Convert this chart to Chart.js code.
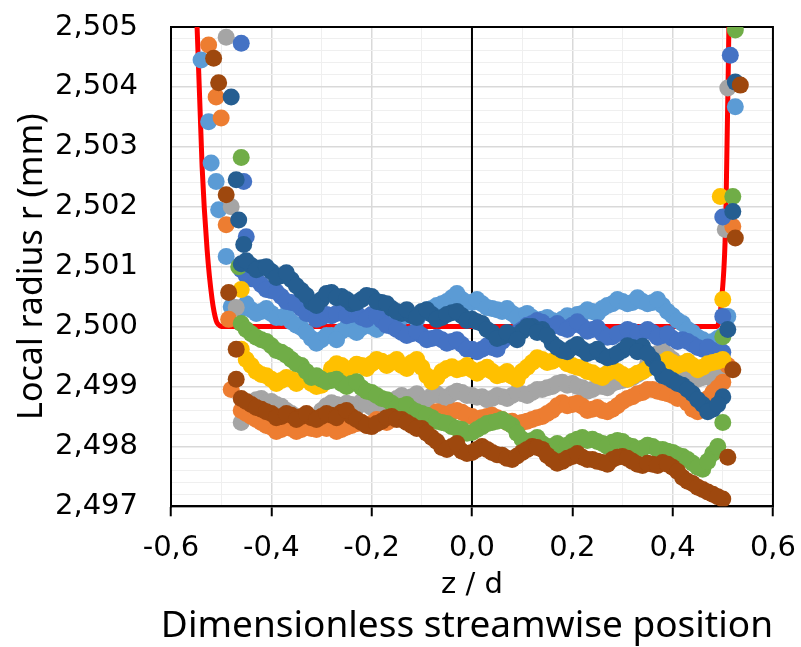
<!DOCTYPE html>
<html>
<head>
<meta charset="utf-8">
<script src="https://cdn.jsdelivr.net/npm/chart.js@4.4.0/dist/chart.umd.min.js"></script>
<style>
  html, body { margin: 0; padding: 0; background: #fff; }
  #wrap { width: 801px; height: 647px; }
</style>
</head>
<body>
<div id="wrap"><canvas id="myChart"></canvas></div>
<script>
// z/d positions of the measured band (shared by all runs)
const zEven = [-0.46, -0.44, -0.42, -0.40, -0.38, -0.36, -0.34, -0.32, -0.30, -0.28,
  -0.26, -0.24, -0.22, -0.20, -0.18, -0.16, -0.14, -0.12, -0.10, -0.08,
  -0.06, -0.04, -0.02, 0.00, 0.02, 0.04, 0.06, 0.08, 0.10, 0.12,
  0.14, 0.16, 0.18, 0.20, 0.22, 0.24, 0.26, 0.28, 0.30, 0.32,
  0.34, 0.36, 0.38, 0.40, 0.42, 0.44, 0.46, 0.48, 0.50];
const zOdd = [-0.45, -0.43, -0.41, -0.39, -0.37, -0.35, -0.33, -0.31, -0.29, -0.27,
  -0.25, -0.23, -0.21, -0.19, -0.17, -0.15, -0.13, -0.11, -0.09, -0.07,
  -0.05, -0.03, -0.01, 0.01, 0.03, 0.05, 0.07, 0.09, 0.11, 0.13,
  0.15, 0.17, 0.19, 0.21, 0.23, 0.25, 0.27, 0.29, 0.31, 0.33,
  0.35, 0.37, 0.39, 0.41, 0.43, 0.45, 0.47, 0.49];

// local radius r (mm) for each run
const rDarkBlue = [2.50105, 2.50102, 2.50098, 2.50092, 2.50085, 2.50078, 2.50060, 2.50040, 2.50045, 2.50057,
  2.50050, 2.50038, 2.50045, 2.50050, 2.50040, 2.50030, 2.50022, 2.50018, 2.50025, 2.50020,
  2.50015, 2.50023, 2.50018, 2.50012, 2.50005, 2.49990, 2.49983, 2.49985, 2.49992, 2.50000,
  2.49995, 2.49972, 2.49960, 2.49965, 2.49962, 2.49958, 2.49952, 2.49950, 2.49960, 2.49965,
  2.49967, 2.49945, 2.49918, 2.49910, 2.49902, 2.49888, 2.49870, 2.49862, 2.49883];
const rDarkBlueOdd = [2.50110, 2.50095, 2.50100, 2.50082, 2.50090, 2.50068, 2.50052, 2.50035, 2.50055, 2.50048,
  2.50045, 2.50040, 2.50052, 2.50042, 2.50038, 2.50025, 2.50028, 2.50015, 2.50028, 2.50012,
  2.50020, 2.50025, 2.50010, 2.50008, 2.49995, 2.49980, 2.49990, 2.49978, 2.50000, 2.49990,
  2.49985, 2.49965, 2.49958, 2.49970, 2.49955, 2.49962, 2.49948, 2.49955, 2.49968, 2.49958,
  2.49955, 2.49930, 2.49915, 2.49905, 2.49895, 2.49878, 2.49858, 2.49870];
const rBlue = [2.50095, 2.50080, 2.50070, 2.50060, 2.50050, 2.50040, 2.50030, 2.50020, 2.50015, 2.50018,
  2.50025, 2.50020, 2.50015, 2.50020, 2.50010, 2.50000, 2.49990, 2.49988, 2.49985, 2.49980,
  2.49978, 2.49975, 2.49970, 2.49962, 2.49962, 2.49965, 2.49975, 2.49985, 2.49995, 2.50005,
  2.50007, 2.50000, 2.49998, 2.50002, 2.50000, 2.49995, 2.49988, 2.49983, 2.49990, 2.49992,
  2.49990, 2.49990, 2.49985, 2.49980, 2.49978, 2.49970, 2.49962, 2.49960, 2.49957];
const rBlueOdd = [2.50085, 2.50078, 2.50062, 2.50058, 2.50042, 2.50038, 2.50022, 2.50012, 2.50020, 2.50022,
  2.50018, 2.50022, 2.50012, 2.50018, 2.50002, 2.49995, 2.49985, 2.49992, 2.49978, 2.49982,
  2.49972, 2.49978, 2.49962, 2.49958, 2.49968, 2.49962, 2.49982, 2.49990, 2.50002, 2.50010,
  2.50000, 2.50005, 2.49995, 2.50008, 2.49992, 2.49998, 2.49982, 2.49988, 2.49995, 2.49985,
  2.49995, 2.49982, 2.49988, 2.49975, 2.49975, 2.49965, 2.49966, 2.49955];
const rLightBlue = [2.50030, 2.50028, 2.50025, 2.50022, 2.50015, 2.50008, 2.49998, 2.49980, 2.49978, 2.49985,
  2.49992, 2.49995, 2.49998, 2.50000, 2.50005, 2.50010, 2.50015, 2.50018, 2.50022, 2.50030,
  2.50038, 2.50048, 2.50045, 2.50040, 2.50038, 2.50030, 2.50025, 2.50022, 2.50018, 2.50015,
  2.50012, 2.50010, 2.50012, 2.50015, 2.50022, 2.50025, 2.50030, 2.50038, 2.50042, 2.50040,
  2.50042, 2.50040, 2.50035, 2.50018, 2.50005, 2.49990, 2.49978, 2.49975, 2.49985];
const rLightBlueOdd = [2.50038, 2.50022, 2.50030, 2.50015, 2.50020, 2.50002, 2.49990, 2.49972, 2.49985, 2.49978,
  2.49998, 2.49990, 2.50005, 2.49995, 2.50010, 2.50005, 2.50020, 2.50012, 2.50028, 2.50035,
  2.50042, 2.50055, 2.50040, 2.50045, 2.50032, 2.50028, 2.50030, 2.50015, 2.50022, 2.50010,
  2.50015, 2.50005, 2.50018, 2.50020, 2.50028, 2.50022, 2.50035, 2.50045, 2.50038, 2.50048,
  2.50038, 2.50045, 2.50025, 2.50010, 2.49995, 2.49982, 2.49970, 2.49980];
const rYellow = [2.49962, 2.49935, 2.49920, 2.49912, 2.49910, 2.49912, 2.49912, 2.49905, 2.49902, 2.49930,
  2.49935, 2.49930, 2.49935, 2.49938, 2.49942, 2.49940, 2.49935, 2.49940, 2.49932, 2.49908,
  2.49925, 2.49933, 2.49930, 2.49928, 2.49928, 2.49925, 2.49920, 2.49917, 2.49925, 2.49940,
  2.49945, 2.49942, 2.49945, 2.49935, 2.49930, 2.49923, 2.49915, 2.49928, 2.49920, 2.49917,
  2.49925, 2.49935, 2.49940, 2.49940, 2.49938, 2.49935, 2.49932, 2.49940, 2.49945];
const rYellowOdd = [2.49945, 2.49925, 2.49918, 2.49905, 2.49915, 2.49905, 2.49918, 2.49900, 2.49915, 2.49938,
  2.49928, 2.49937, 2.49930, 2.49945, 2.49935, 2.49945, 2.49930, 2.49945, 2.49918, 2.49915,
  2.49930, 2.49928, 2.49935, 2.49922, 2.49932, 2.49918, 2.49925, 2.49912, 2.49932, 2.49948,
  2.49940, 2.49948, 2.49938, 2.49932, 2.49925, 2.49918, 2.49922, 2.49925, 2.49912, 2.49922,
  2.49930, 2.49938, 2.49945, 2.49935, 2.49942, 2.49928, 2.49938, 2.49942];
const rGreen = [2.50005, 2.49988, 2.49978, 2.49968, 2.49957, 2.49945, 2.49935, 2.49915, 2.49912, 2.49910,
  2.49905, 2.49905, 2.49898, 2.49890, 2.49880, 2.49872, 2.49867, 2.49862, 2.49855, 2.49848,
  2.49840, 2.49833, 2.49828, 2.49823, 2.49833, 2.49840, 2.49845, 2.49835, 2.49812, 2.49810,
  2.49805, 2.49800, 2.49798, 2.49808, 2.49815, 2.49812, 2.49805, 2.49807, 2.49808, 2.49800,
  2.49797, 2.49800, 2.49795, 2.49790, 2.49783, 2.49772, 2.49762, 2.49788, 2.49840];
const rGreenOdd = [2.49995, 2.49982, 2.49975, 2.49960, 2.49952, 2.49938, 2.49925, 2.49918, 2.49908, 2.49912,
  2.49900, 2.49908, 2.49892, 2.49885, 2.49878, 2.49865, 2.49870, 2.49858, 2.49852, 2.49842,
  2.49838, 2.49830, 2.49822, 2.49828, 2.49838, 2.49842, 2.49840, 2.49822, 2.49808, 2.49815,
  2.49800, 2.49805, 2.49802, 2.49812, 2.49810, 2.49808, 2.49800, 2.49810, 2.49802, 2.49795,
  2.49802, 2.49795, 2.49792, 2.49785, 2.49778, 2.49765, 2.49775, 2.49800];
const rGray = [2.49840, 2.49870, 2.49880, 2.49875, 2.49867, 2.49855, 2.49840, 2.49835, 2.49860, 2.49873,
  2.49868, 2.49870, 2.49875, 2.49865, 2.49862, 2.49875, 2.49885, 2.49883, 2.49880, 2.49885,
  2.49883, 2.49888, 2.49890, 2.49885, 2.49883, 2.49880, 2.49883, 2.49885, 2.49888, 2.49890,
  2.49895, 2.49900, 2.49907, 2.49905, 2.49898, 2.49895, 2.49900, 2.49905, 2.49910, 2.49915,
  2.49925, 2.49950, 2.49960, 2.49945, 2.49930, 2.49918, 2.49915, 2.49912, 2.49920];
const rGrayOdd = [2.49858, 2.49878, 2.49872, 2.49870, 2.49860, 2.49848, 2.49838, 2.49848, 2.49868, 2.49870,
  2.49872, 2.49865, 2.49870, 2.49860, 2.49870, 2.49880, 2.49880, 2.49888, 2.49878, 2.49888,
  2.49880, 2.49892, 2.49885, 2.49882, 2.49878, 2.49885, 2.49880, 2.49890, 2.49885, 2.49895,
  2.49898, 2.49905, 2.49902, 2.49900, 2.49892, 2.49900, 2.49898, 2.49908, 2.49912, 2.49920,
  2.49938, 2.49955, 2.49952, 2.49938, 2.49922, 2.49912, 2.49918, 2.49915];
const rOrange = [2.49860, 2.49850, 2.49840, 2.49832, 2.49828, 2.49830, 2.49828, 2.49830, 2.49835, 2.49832,
  2.49828, 2.49835, 2.49840, 2.49838, 2.49842, 2.49845, 2.49848, 2.49850, 2.49848, 2.49852,
  2.49855, 2.49857, 2.49857, 2.49850, 2.49848, 2.49852, 2.49845, 2.49842, 2.49840, 2.49845,
  2.49850, 2.49860, 2.49873, 2.49870, 2.49867, 2.49862, 2.49860, 2.49862, 2.49875, 2.49883,
  2.49890, 2.49895, 2.49890, 2.49885, 2.49883, 2.49862, 2.49870, 2.49890, 2.49907];
const rOrangeOdd = [2.49855, 2.49845, 2.49835, 2.49825, 2.49832, 2.49825, 2.49832, 2.49828, 2.49830, 2.49825,
  2.49832, 2.49838, 2.49835, 2.49845, 2.49840, 2.49850, 2.49845, 2.49852, 2.49850, 2.49858,
  2.49852, 2.49860, 2.49852, 2.49845, 2.49850, 2.49848, 2.49840, 2.49838, 2.49842, 2.49848,
  2.49855, 2.49868, 2.49868, 2.49872, 2.49860, 2.49865, 2.49858, 2.49868, 2.49880, 2.49888,
  2.49895, 2.49892, 2.49888, 2.49880, 2.49872, 2.49858, 2.49880, 2.49898];
const rBrown = [2.49880, 2.49870, 2.49862, 2.49855, 2.49850, 2.49852, 2.49850, 2.49848, 2.49850, 2.49852,
  2.49857, 2.49850, 2.49840, 2.49833, 2.49842, 2.49850, 2.49845, 2.49835, 2.49830, 2.49815,
  2.49798, 2.49800, 2.49792, 2.49790, 2.49800, 2.49790, 2.49785, 2.49778, 2.49790, 2.49800,
  2.49795, 2.49778, 2.49775, 2.49783, 2.49782, 2.49778, 2.49773, 2.49778, 2.49783, 2.49775,
  2.49768, 2.49770, 2.49773, 2.49765, 2.49748, 2.49738, 2.49728, 2.49720, 2.49712];
const rBrownOdd = [2.49875, 2.49865, 2.49858, 2.49848, 2.49855, 2.49845, 2.49855, 2.49845, 2.49855, 2.49848,
  2.49860, 2.49845, 2.49835, 2.49838, 2.49848, 2.49845, 2.49840, 2.49830, 2.49822, 2.49808,
  2.49795, 2.49805, 2.49788, 2.49795, 2.49795, 2.49786, 2.49780, 2.49784, 2.49795, 2.49798,
  2.49785, 2.49772, 2.49780, 2.49788, 2.49778, 2.49775, 2.49770, 2.49782, 2.49780, 2.49770,
  2.49772, 2.49768, 2.49770, 2.49758, 2.49742, 2.49732, 2.49724, 2.49716];

// points near the two ends of the sample, [z/d, r]
const edgeDarkBlue = [[-0.48, 2.50383], [-0.47, 2.50245], [-0.465, 2.50178], [-0.455, 2.50137],
  [0.51, 2.49995], [0.52, 2.50192], [0.525, 2.50408]];
const edgeBlue = [[-0.46, 2.50473], [-0.455, 2.50242], [-0.45, 2.50150], [0.50, 2.50017],
  [0.50, 2.50183], [0.515, 2.50453]];
const edgeLightBlue = [[-0.54, 2.50445], [-0.525, 2.50342], [-0.52, 2.50273], [-0.51, 2.50242],
  [-0.505, 2.50195], [-0.49, 2.50117], [-0.48, 2.50033], [0.51, 2.50017], [0.525, 2.50367]];
const edgeYellow = [[-0.46, 2.50062], [0.50, 2.50045], [0.495, 2.50217]];
const edgeGreen = [[-0.46, 2.50282], [-0.465, 2.50100], [0.50, 2.49983], [0.52, 2.50217], [0.525, 2.50495]];
const edgeGray = [[-0.49, 2.50483], [-0.48, 2.50200], [-0.47, 2.50032], [0.51, 2.50398], [0.505, 2.50162]];
const edgeOrange = [[-0.525, 2.50470], [-0.51, 2.50383], [-0.50, 2.50348], [-0.49, 2.50170],
  [-0.485, 2.50012], [-0.48, 2.49895], [0.52, 2.50167], [0.51, 2.49935]];
const edgeBrown = [[-0.515, 2.50448], [-0.505, 2.50407], [-0.49, 2.50220], [-0.485, 2.50057],
  [-0.47, 2.49962], [-0.47, 2.49912], [0.51, 2.49782], [0.52, 2.49928], [0.535, 2.50403], [0.525, 2.50148]];

// nominal contour (red line)
const nominalZ = [-0.552, -0.548, -0.538, -0.528, -0.518, -0.510, -0.505, -0.500, 0.488, 0.497, 0.506, 0.512, 0.513];
const nominalR = [2.5055, 2.5050, 2.50267, 2.50128, 2.50045, 2.50010, 2.50003, 2.50000, 2.50000, 2.50040, 2.50180, 2.50490, 2.50550];

const xTickLabels = ['-0,6', '-0,4', '-0,2', '0,0', '0,2', '0,4', '0,6'];
const yTickLabels = ['2,497', '2,498', '2,499', '2,500', '2,501', '2,502', '2,503', '2,504', '2,505'];

function runPoints(rs, rsOdd, edge) {
  const pts = zEven.map((z, i) => ({ x: z, y: rs[i] }));
  zOdd.forEach((z, i) => pts.push({ x: z, y: rsOdd[i] }));
  edge.forEach(p => pts.push({ x: p[0], y: p[1] }));
  return pts;
}

function runSet(label, color, rs, rsOdd, edge, order) {
  return {
    label: label,
    data: runPoints(rs, rsOdd, edge),
    backgroundColor: color,
    borderColor: color,
    pointRadius: 8.5,
    pointHoverRadius: 8.5,
    pointBorderWidth: 0,
    order: order
  };
}

// plot frame and the black z/d = 0 line, under the markers
const frame = {
  id: 'frame',
  beforeDatasetsDraw(chart) {
    const a = chart.chartArea, c = chart.ctx;
    const x0 = chart.scales.x.getPixelForValue(0);
    c.save();
    c.strokeStyle = '#000';
    c.lineWidth = 2;
    c.beginPath();
    c.moveTo(x0, a.top);
    c.lineTo(x0, a.bottom);
    c.stroke();
    c.strokeRect(a.left, a.top, a.right - a.left, a.bottom - a.top);
    c.restore();
  }
};

const isMajorX = v => Math.abs(Math.round(v * 10)) % 2 === 0;
const isMajorY = v => Math.round(v * 10000) % 10 === 0;

const ctx = document.getElementById('myChart').getContext('2d');
const chart = new Chart(ctx, {
  type: 'scatter',
  data: {
    datasets: [
      {
        label: 'nominal',
        data: nominalZ.map((z, i) => ({ x: z, y: nominalR[i] })),
        showLine: true,
        borderColor: '#ff0000',
        backgroundColor: '#ff0000',
        borderWidth: 5,
        pointRadius: 0,
        cubicInterpolationMode: 'monotone',
        clip: 0,
        order: 9
      },
      runSet('run 5', '#5b9bd5', rLightBlue, rLightBlueOdd, edgeLightBlue, 8),
      runSet('run 3', '#a5a5a5', rGray, rGrayOdd, edgeGray, 7),
      runSet('run 2', '#ed7d31', rOrange, rOrangeOdd, edgeOrange, 6),
      runSet('run 1', '#4472c4', rBlue, rBlueOdd, edgeBlue, 5),
      runSet('run 4', '#ffc000', rYellow, rYellowOdd, edgeYellow, 4),
      runSet('run 6', '#70ad47', rGreen, rGreenOdd, edgeGreen, 3),
      runSet('run 7', '#255e91', rDarkBlue, rDarkBlueOdd, edgeDarkBlue, 2),
      runSet('run 8', '#9e480e', rBrown, rBrownOdd, edgeBrown, 1)
    ]
  },
  options: {
    responsive: true,
    maintainAspectRatio: false,
    animation: false,
    events: [],
    layout: { padding: { top: 27, right: 28, left: 0, bottom: 0 } },
    plugins: {
      legend: { display: false },
      tooltip: { enabled: false },
      title: {
        display: true,
        position: 'bottom',
        align: 'end',
        text: 'Dimensionless streamwise position',
        color: '#000',
        font: { family: 'Noto Sans', size: 37, weight: 'normal', lineHeight: 1.1 },
        padding: 0
      }
    },
    scales: {
      x: {
        type: 'linear',
        min: -0.6,
        max: 0.6,
        afterFit: s => { s.height = 100; },
        border: { color: '#000', width: 2 },
        grid: {
          color: c => isMajorX(c.tick.value) ? '#d9d9d9' : '#efefef',
          lineWidth: c => isMajorX(c.tick.value) ? 1.5 : 1,
          drawTicks: true,
          tickLength: 10,
          tickWidth: 2,
          tickColor: c => isMajorX(c.tick.value) ? '#000' : 'rgba(0,0,0,0)'
        },
        ticks: {
          stepSize: 0.1,
          padding: 5,
          maxRotation: 0,
          autoSkip: false,
          color: '#000',
          font: { family: 'DejaVu Sans', size: 29, lineHeight: 1.9 },
          callback: v => isMajorX(v) ? xTickLabels[Math.round(v * 5) + 3] : ''
        },
        title: {
          display: true,
          text: 'z / d',
          color: '#000',
          font: { family: 'DejaVu Sans', size: 29 },
          padding: { top: 3, bottom: 3 }
        }
      },
      y: {
        type: 'linear',
        min: 2.497,
        max: 2.505,
        afterFit: s => { s.width = 171; },
        border: { color: '#000', width: 2 },
        grid: {
          color: c => isMajorY(c.tick.value) ? '#d9d9d9' : '#efefef',
          lineWidth: c => isMajorY(c.tick.value) ? 1.5 : 1,
          drawTicks: true,
          tickLength: 33,
          tickColor: 'rgba(0,0,0,0)'
        },
        ticks: {
          stepSize: 0.0002,
          padding: 0,
          autoSkip: false,
          color: '#000',
          font: { family: 'DejaVu Sans', size: 29 },
          callback: v => isMajorY(v) ? yTickLabels[Math.round((v - 2.497) * 1000)] : ''
        },
        title: {
          display: true,
          text: 'Local radius r (mm)',
          color: '#000',
          font: { family: 'Noto Sans', size: 34 },
          padding: { top: 12, bottom: 0 }
        }
      }
    }
  },
  plugins: [frame]
});
</script>
</body>
</html>
